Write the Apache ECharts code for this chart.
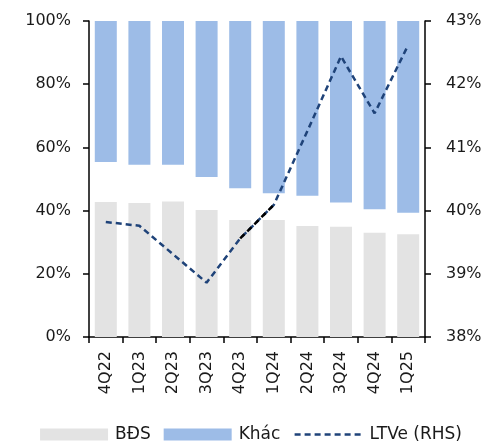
<!DOCTYPE html>
<html>
<head>
<meta charset="utf-8">
<script src="https://cdn.jsdelivr.net/npm/echarts@6/dist/echarts.min.js"></script>
<style>
  html, body { margin: 0; padding: 0; background: #fff; }
  #chart { width: 502px; height: 444px; }
</style>
</head>
<body>
<div id="chart"></div>
<script>
// Quarterly categories
const quarters = ['4Q22', '1Q23', '2Q23', '3Q23', '4Q23', '1Q24', '2Q24', '3Q24', '4Q24', '1Q25'];
// Share of real-estate collateral (%)
const bdsShare = [42.7, 42.4, 42.9, 40.2, 37.0, 37.0, 35.1, 34.9, 33.0, 32.5];
// Share of other collateral (%)
const otherShare = [44.6, 45.5, 45.5, 49.4, 52.9, 54.5, 55.3, 57.4, 59.6, 60.7];
// LTVe, right-hand scale (%)
const ltve = [39.82, 39.76, 39.31, 38.86, 39.56, 40.09, 41.26, 42.44, 41.54, 42.62];
// Axis tick values
const leftTicks = [0, 20, 40, 60, 80, 100];
const rightTicks = [38, 39, 40, 41, 42, 43];

// Unreported remainder sits between the two stacked shares
const remainder = bdsShare.map((v, i) => +(100 - v - otherShare[i]).toFixed(2));
// Highlighted segment between 4Q23 and 1Q24
const ltveSegment = ltve.map((v, i) => (i === 4 || i === 5) ? v : null);

const FONT = 'DejaVu Sans';
const txt = '#1a1a1a';
const axisFont = 16;
const lineColor = '#1F4379';

const chart = echarts.init(document.getElementById('chart'), null, { renderer: 'canvas' });
chart.setOption({
  animation: false,
  textStyle: { fontFamily: FONT },
  grid: { left: 89, right: 77, top: 21, bottom: 107, containLabel: false },
  legend: {
    top: 421,
    left: 'center',
    itemWidth: 68,
    itemHeight: 12,
    itemGap: 13,
    textStyle: { fontFamily: FONT, fontSize: 17, color: txt, padding: [0, 0, 0, 2] },
    data: [
      { name: 'BĐS', icon: 'rect' },
      { name: 'Khác', icon: 'rect' },
      { name: 'LTVe (RHS)', itemStyle: { opacity: 0 }, lineStyle: { color: lineColor, width: 2.5, type: [6, 4] } }
    ]
  },
  xAxis: {
    type: 'category',
    data: quarters,
    axisLine: { lineStyle: { color: '#000', width: 1.5 } },
    axisTick: { show: true, length: 6, lineStyle: { color: '#000', width: 1.5 } },
    axisLabel: { rotate: 90, margin: 14, fontSize: axisFont, color: txt, fontFamily: FONT }
  },
  yAxis: [
    {
      type: 'value',
      min: leftTicks[0],
      max: leftTicks[leftTicks.length - 1],
      interval: 20,
      axisLine: { show: true, lineStyle: { color: '#000', width: 1.5 } },
      axisTick: { show: true, length: 6, lineStyle: { color: '#000', width: 1.5 } },
      splitLine: { show: false },
      axisLabel: { margin: 18, fontSize: axisFont, color: txt, fontFamily: FONT, formatter: '{value}%' }
    },
    {
      type: 'value',
      position: 'right',
      min: rightTicks[0],
      max: rightTicks[rightTicks.length - 1],
      interval: 1,
      axisLine: { show: true, lineStyle: { color: '#000', width: 1.5 } },
      axisTick: { show: true, length: 6, lineStyle: { color: '#000', width: 1.5 } },
      splitLine: { show: false },
      axisLabel: { margin: 21, fontSize: axisFont, color: txt, fontFamily: FONT, formatter: '{value}%' }
    }
  ],
  series: [
    {
      name: 'BĐS',
      type: 'bar',
      stack: 'mix',
      barWidth: 22,
      data: bdsShare,
      itemStyle: { color: '#E3E3E3' }
    },
    {
      name: 'remainder',
      type: 'bar',
      stack: 'mix',
      barWidth: 22,
      data: remainder,
      itemStyle: { color: 'rgba(0,0,0,0)' },
      silent: true
    },
    {
      name: 'Khác',
      type: 'bar',
      stack: 'mix',
      barWidth: 22,
      data: otherShare,
      itemStyle: { color: '#9DBCE7' }
    },
    {
      name: 'LTVe (RHS)',
      type: 'line',
      yAxisIndex: 1,
      data: ltve,
      symbol: 'none',
      z: 5,
      itemStyle: { color: lineColor },
      lineStyle: { color: lineColor, width: 2.5, type: [6, 4] }
    },
    {
      name: 'segment',
      type: 'line',
      yAxisIndex: 1,
      data: ltveSegment,
      symbol: 'none',
      z: 6,
      lineStyle: { color: '#000', width: 2.5, type: [6, 4] }
    }
  ]
});
</script>
</body>
</html>
